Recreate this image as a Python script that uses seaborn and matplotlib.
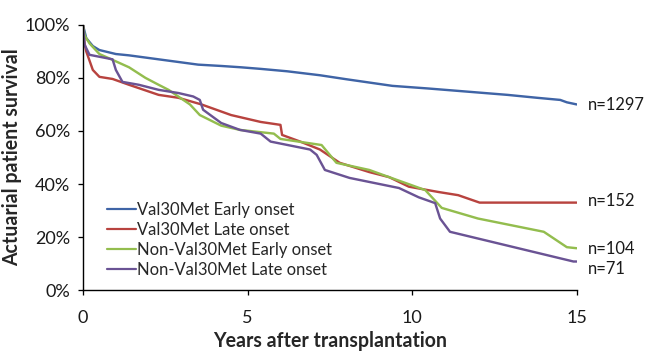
import numpy as np
import pandas as pd
import matplotlib
matplotlib.use("Agg")
import matplotlib.pyplot as plt
import seaborn as sns
from matplotlib.ticker import PercentFormatter

# survival curves (years, % surviving)
early_v30m_x = [0, 0.1, 0.3, 0.5, 1.0, 1.4, 2.0, 2.9, 3.5, 4.2, 4.8, 5.4, 6.2, 7.2, 8.0, 9.4, 10.5, 11.5, 12.9, 13.8, 14.5, 14.7, 15]
early_v30m_y = [100, 95, 92, 90.5, 89, 88.5, 87.5, 86, 85, 84.5, 84, 83.4, 82.5, 81, 79.5, 77, 76, 75, 73.6, 72.5, 71.7, 70.8, 70]

late_v30m_x = [0, 0.05, 0.1, 0.3, 0.5, 0.9, 1.4, 2.3, 2.9, 3.6, 4.5, 5.4, 6.0, 6.05, 6.6, 7.2, 7.8, 8.7, 9.3, 9.9, 10.8, 11.4, 12.05, 15]
late_v30m_y = [100, 93, 90, 83, 80.4, 79.6, 77.4, 73.6, 72.5, 70, 66, 63.4, 62.3, 58.5, 56, 53, 48, 44.5, 42.6, 39, 37, 35.8, 33, 33]

early_non_x = [0, 0.05, 0.2, 0.5, 0.9, 1.4, 1.9, 2.3, 2.6, 3.25, 3.55, 4.2, 4.77, 5.8, 6.0, 7.25, 7.7, 8.7, 9.3, 10.0, 10.4, 10.9, 12.0, 14.0, 14.7, 15]
early_non_y = [100, 96, 93, 89, 86.8, 84, 80, 77.4, 75.5, 70, 66, 62, 60.4, 59, 57, 54.7, 48, 45.3, 42.6, 39.5, 37.7, 31, 27, 22, 16.2, 15.8]

late_non_x = [0, 0.05, 0.2, 0.9, 1.0, 1.2, 1.7, 2.3, 2.9, 3.35, 3.55, 3.65, 4.2, 4.77, 5.4, 5.7, 6.9, 7.1, 7.35, 8.1, 9.6, 10.2, 10.7, 10.85, 11.15, 14.9, 15]
late_non_y = [100, 92.5, 88.7, 87, 83, 78.5, 77.4, 75.5, 74.3, 73, 71.7, 68, 63, 60.4, 59, 56, 53, 51, 45.3, 42.3, 38.5, 35, 32.8, 27, 22, 10.8, 10.8]

group_names = ["Val30Met Early onset", "Val30Met Late onset",
               "Non-Val30Met Early onset", "Non-Val30Met Late onset"]
group_n = ["n=1297", "n=152", "n=104", "n=71"]
label_y = [69.8, 33.6, 15.5, 7.9]
colors = ["#3F64A6", "#B8433F", "#93BD4E", "#6A5394"]

curves = [(early_v30m_x, early_v30m_y), (late_v30m_x, late_v30m_y),
          (early_non_x, early_non_y), (late_non_x, late_non_y)]
frames = []
for name, (xs, ys) in zip(group_names, curves):
    frames.append(pd.DataFrame({"years": xs, "survival": ys, "group": name}))
df = pd.concat(frames, ignore_index=True)

sns.set_style("white")
plt.rcParams["font.family"] = ["Lato", "DejaVu Sans"]

fig = plt.figure(figsize=(9, 5), dpi=72)
ax = fig.add_axes([0.128, 0.194, 0.762, 0.737])

sns.lineplot(data=df, x="years", y="survival", hue="group", hue_order=group_names,
             palette=colors, linewidth=2.4, sort=False, estimator=None, ax=ax)

for txt, yv in zip(group_n, label_y):
    ax.text(15.35, yv, txt, fontsize=16.5, va="center", ha="left", color="#1a1a1a")

ax.set_xlim(0, 15)
ax.set_ylim(0, 100)
ax.set_xticks([0, 5, 10, 15])
ax.set_yticks([0, 20, 40, 60, 80, 100])
ax.yaxis.set_major_formatter(PercentFormatter(decimals=0))
ax.tick_params(axis="both", labelsize=18, direction="out", length=5, width=1.3,
               color="black", left=True, bottom=True, labelcolor="#1a1a1a")
ax.tick_params(axis="x", pad=15)
ax.tick_params(axis="y", pad=8)
sns.despine(ax=ax)
for s in ["left", "bottom"]:
    ax.spines[s].set_color("black")
    ax.spines[s].set_linewidth(1.4)

ax.set_xlabel("Years after transplantation", fontsize=19.5, fontweight="bold", labelpad=5)
ax.set_ylabel("Actuarial patient survival", fontsize=19.5, fontweight="bold", labelpad=2)

leg = ax.legend(loc="lower left", bbox_to_anchor=(0.035, 0.02), frameon=False,
                fontsize=16.5, handlelength=1.75, handletextpad=0.05,
                labelspacing=0.25, borderaxespad=0.0)
for line in leg.get_lines():
    line.set_linewidth(2.2)

fig.savefig("out.png", dpi=72)
